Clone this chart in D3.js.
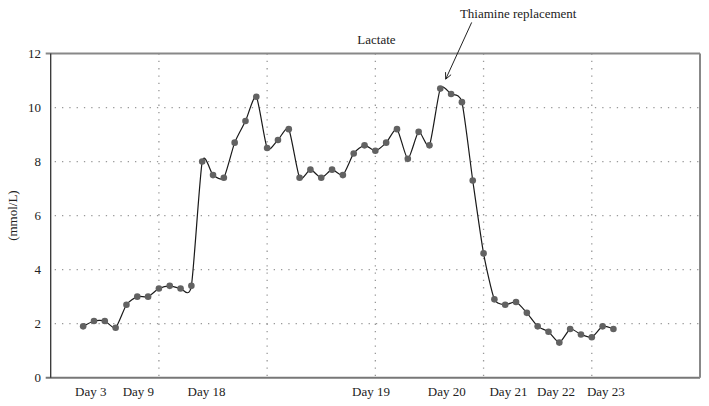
<!DOCTYPE html>
<html>
<head>
<meta charset="utf-8">
<script src="https://cdn.jsdelivr.net/npm/d3@7.9.0/dist/d3.min.js"></script>
<style>
  html, body { margin: 0; padding: 0; background: #fff; }
  svg text { font-family: "Liberation Serif", "DejaVu Serif", serif; fill: #222; }
</style>
</head>
<body>
<svg id="chart" width="709" height="406"></svg>
<script>
// lactate readings, one per category slot, starting at slot 3
const firstSlot = 3;
const lactate = [
  1.9, 2.1, 2.1, 1.85, 2.7, 3.0, 3.0, 3.3, 3.4, 3.3,
  3.4, 8.0, 7.5, 7.4, 8.7, 9.5, 10.4, 8.5, 8.8, 9.2,
  7.4, 7.7, 7.4, 7.7, 7.5, 8.3, 8.6, 8.4, 8.7, 9.2,
  8.1, 9.1, 8.6, 10.7, 10.5, 10.2, 7.3, 4.6, 2.9, 2.7,
  2.8, 2.4, 1.9, 1.7, 1.3, 1.8, 1.6, 1.5, 1.9, 1.8
];

const dayLabels = ['Day 3', 'Day 9', 'Day 18', 'Day 19', 'Day 20', 'Day 21', 'Day 22', 'Day 23'];
const dayLabelSlots = [3.7, 8.1, 14.4, 29.6, 36.6, 42.3, 46.7, 51.3];

const yTicks = [0, 2, 4, 6, 8, 10, 12];
const slotGrid = [10, 20, 30, 40, 50];

const svg = d3.select('#chart');
const x = d3.scaleLinear().domain([0, 60]).range([50.7, 700]);
const y = d3.scaleLinear().domain([0, 12]).range([377.7, 53.5]);

// dotted grid
svg.append('g')
  .selectAll('line')
  .data(yTicks.filter((t) => t > 0 && t < 12))
  .join('line')
  .attr('x1', x(0) + 4).attr('x2', x(60))
  .attr('y1', (d) => y(d)).attr('y2', (d) => y(d))
  .attr('stroke', '#999').attr('stroke-width', 1.3)
  .attr('stroke-dasharray', '1.3,6');

svg.append('g')
  .selectAll('line')
  .data(slotGrid)
  .join('line')
  .attr('x1', (d) => x(d)).attr('x2', (d) => x(d))
  .attr('y1', y(12)).attr('y2', y(0))
  .attr('stroke', '#999').attr('stroke-width', 1.3)
  .attr('stroke-dasharray', '1.3,6');

// frame
svg.append('line')
  .attr('x1', x(0) - 5).attr('x2', x(60))
  .attr('y1', y(12)).attr('y2', y(12))
  .attr('stroke', '#888').attr('stroke-width', 2);
svg.append('line')
  .attr('x1', x(0) - 5).attr('x2', x(60))
  .attr('y1', y(0)).attr('y2', y(0))
  .attr('stroke', '#777').attr('stroke-width', 2);
svg.append('line')
  .attr('x1', x(60)).attr('x2', x(60))
  .attr('y1', y(12)).attr('y2', y(0))
  .attr('stroke', '#888').attr('stroke-width', 2);
svg.append('line')
  .attr('x1', x(0)).attr('x2', x(0))
  .attr('y1', y(12)).attr('y2', y(0))
  .attr('stroke', '#333').attr('stroke-width', 1.3);

// y tick labels
svg.append('g')
  .selectAll('text')
  .data(yTicks)
  .join('text')
  .attr('x', 41)
  .attr('y', (d) => y(d))
  .attr('dy', '0.35em')
  .attr('text-anchor', 'end')
  .attr('font-size', 13)
  .text((d) => d);

// x labels
svg.append('g')
  .selectAll('text')
  .data(dayLabels)
  .join('text')
  .attr('x', (_, i) => x(dayLabelSlots[i]))
  .attr('y', 396)
  .attr('text-anchor', 'middle')
  .attr('font-size', 13)
  .text((d) => d);

svg.append('text')
  .attr('transform', `translate(17,${(y(0) + y(12)) / 2}) rotate(-90)`)
  .attr('text-anchor', 'middle')
  .attr('font-size', 13)
  .text('(mmol/L)');

svg.append('text')
  .attr('x', x(30.1)).attr('y', 43.5)
  .attr('text-anchor', 'middle')
  .attr('font-size', 13)
  .text('Lactate');

// series
const points = lactate.map((v, i) => [firstSlot + i, v]);
const line = d3.line()
  .x((d) => x(d[0]))
  .y((d) => y(d[1]))
  .curve(d3.curveCardinal.tension(0.35));

svg.append('path')
  .attr('d', line(points))
  .attr('fill', 'none')
  .attr('stroke', '#1a1a1a')
  .attr('stroke-width', 1.2);

svg.append('g')
  .selectAll('circle')
  .data(points)
  .join('circle')
  .attr('cx', (d) => x(d[0]))
  .attr('cy', (d) => y(d[1]))
  .attr('r', 3.3)
  .attr('fill', '#626262');

// annotation
const tip = [x(36.5), y(11.05)];
const tail = [x(38.9), y(13.15)];
svg.append('text')
  .attr('x', x(43.2)).attr('y', 17.5)
  .attr('text-anchor', 'middle')
  .attr('font-size', 13)
  .text('Thiamine replacement');

svg.append('line')
  .attr('x1', tail[0]).attr('y1', tail[1])
  .attr('x2', tip[0]).attr('y2', tip[1])
  .attr('stroke', '#222').attr('stroke-width', 1);

const ang = Math.atan2(tip[1] - tail[1], tip[0] - tail[0]);
const head = [ang + Math.PI - 0.45, ang + Math.PI + 0.45]
  .map((a) => [tip[0] + 7 * Math.cos(a), tip[1] + 7 * Math.sin(a)]);
svg.append('path')
  .attr('d', `M${head[0]}L${tip}L${head[1]}`)
  .attr('fill', 'none')
  .attr('stroke', '#222').attr('stroke-width', 1);
</script>
</body>
</html>
